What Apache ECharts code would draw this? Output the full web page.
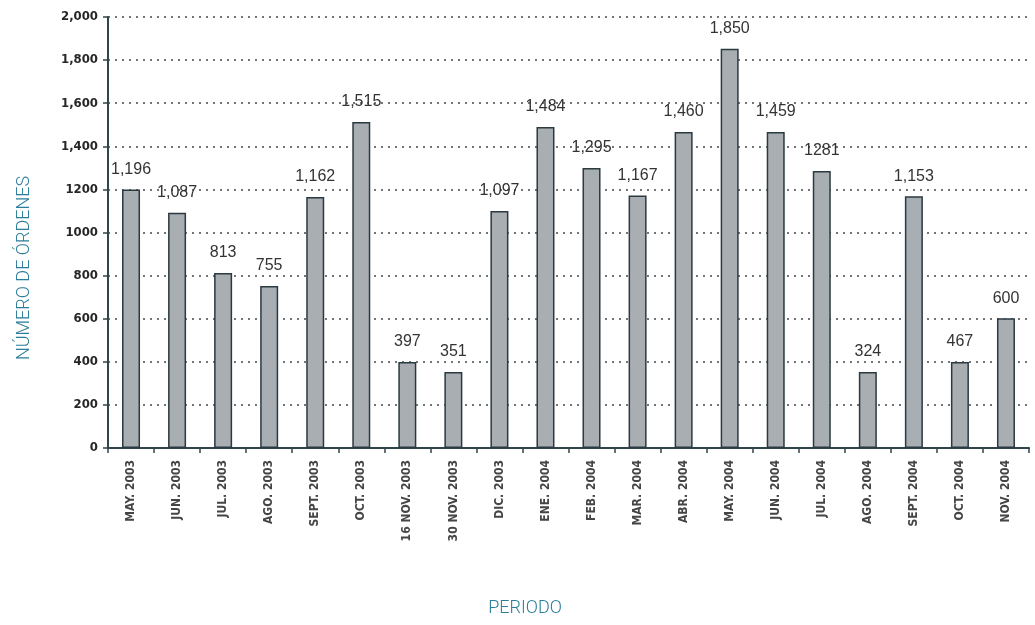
<!DOCTYPE html>
<html>
<head>
<meta charset="utf-8">
<script src="https://cdn.jsdelivr.net/npm/echarts@6/dist/echarts.min.js"></script>
<style>
  html, body { margin: 0; padding: 0; background: #fff; }
  #chart { width: 1035px; height: 625px; }
</style>
</head>
<body>
<div id="chart"></div>
<script>
  var categories = ['MAY. 2003', 'JUN. 2003', 'JUL. 2003', 'AGO. 2003', 'SEPT. 2003', 'OCT. 2003',
    '16 NOV. 2003', '30 NOV. 2003', 'DIC. 2003', 'ENE. 2004', 'FEB. 2004', 'MAR. 2004',
    'ABR. 2004', 'MAY. 2004', 'JUN. 2004', 'JUL. 2004', 'AGO. 2004', 'SEPT. 2004',
    'OCT. 2004', 'NOV. 2004']
  // bar heights as drawn
  var barValues = [1200, 1092, 812, 752, 1165, 1513, 399, 353, 1100, 1490, 1299, 1172,
    1466, 1853, 1466, 1285, 353, 1168, 399, 602]
  // value labels as printed
  var valueLabels = ['1,196', '1,087', '813', '755', '1,162', '1,515', '397', '351', '1,097', '1,484',
    '1,295', '1,167', '1,460', '1,850', '1,459', '1281', '324', '1,153', '467', '600']
  var yTickLabels = ['0', '200', '400', '600', '800', '1000', '1200', '1,400', '1,600', '1,800', '2,000']
  var xTitle = 'PERIODO'
  var yTitle = 'NÚMERO DE ÓRDENES'

  var chart = echarts.init(document.getElementById('chart'))
  var axisColor = '#30444c'
  var titleColor = '#2b7e99'
  var narrow = '"Liberation Sans Narrow", "DejaVu Sans Condensed", sans-serif'

  chart.setOption({
    animation: false,
    grid: {
      left: 108,
      right: 6,
      top: 17,
      bottom: 177
    },
    graphic: [{
      type: 'text',
      x: 24,
      y: 268,
      rotation: Math.PI / 2,
      style: {
        text: yTitle,
        fill: titleColor,
        fontSize: 18,
        fontFamily: 'Roboto',
        fontWeight: 300,
        align: 'center',
        verticalAlign: 'middle'
      }
    }, {
      type: 'text',
      x: 525,
      y: 608,
      style: {
        text: xTitle,
        fill: titleColor,
        fontSize: 18,
        fontFamily: 'Roboto',
        fontWeight: 300,
        align: 'center',
        verticalAlign: 'middle'
      }
    }],
    xAxis: {
      type: 'category',
      data: categories,
      axisLine: { lineStyle: { color: axisColor, width: 2 } },
      axisTick: { show: true, length: 5, lineStyle: { color: axisColor, width: 1.5 } },
      axisLabel: {
        rotate: 90,
        interval: 0,
        margin: 12,
        color: '#454545',
        fontSize: 12,
        fontWeight: 'bold',
        fontFamily: narrow
      }
    },
    yAxis: {
      type: 'value',
      min: 0,
      max: 2000,
      interval: 200,
      axisLine: { show: true, lineStyle: { color: axisColor, width: 2 } },
      axisTick: { show: true, length: 5, lineStyle: { color: axisColor, width: 1.5 } },
      axisLabel: {
        margin: 10,
        color: '#262626',
        fontSize: 13,
        fontWeight: 'bold',
        fontFamily: narrow,
        formatter: function (v) {
          return yTickLabels[Math.round(v / 200)]
        }
      },
      splitLine: {
        show: true,
        lineStyle: { color: '#44494c', width: 1.7, type: [2, 5] }
      }
    },
    series: [{
      type: 'bar',
      data: barValues,
      barWidth: 18,
      itemStyle: {
        color: '#a9aeb3',
        borderColor: '#2a3a40',
        borderWidth: 1.5
      },
      label: {
        show: true,
        position: 'top',
        distance: 12,
        color: '#333',
        fontSize: 16,
        fontFamily: '"Liberation Sans", Arial, sans-serif',
        formatter: function (p) {
          return valueLabels[p.dataIndex]
        }
      }
    }]
  })
</script>
</body>
</html>
